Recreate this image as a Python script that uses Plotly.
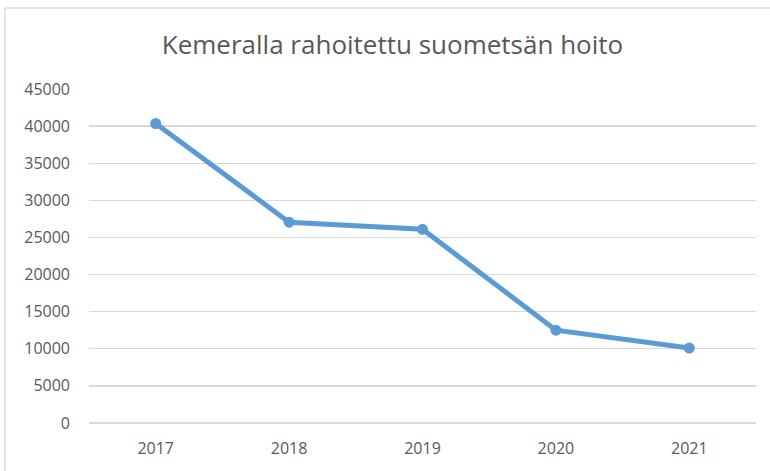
import plotly.graph_objects as go

years = ["2017", "2018", "2019", "2020", "2021"]
values = [40350, 27050, 26100, 12500, 10100]
y_ticks = [0, 5000, 10000, 15000, 20000, 25000, 30000, 35000, 40000, 45000]
title_text = "Kemeralla rahoitettu suometsän hoito"

W, H = 770, 471
L, R, T, B = 89, 14, 89, 48
pw, ph = W - L - R, H - T - B


def px_x(x):
    return (x - L) / pw


def px_y(y):
    return (H - B - y) / ph


fig = go.Figure()
fig.add_trace(go.Scatter(
    x=years, y=values, mode="lines+markers",
    line=dict(color="#5B9BD5", width=5),
    marker=dict(color="#5B9BD5", size=11),
    showlegend=False, hoverinfo="skip",
))

font_color = "#595959"
border = dict(color="#d9d9d9", width=1.5)
fig.update_layout(
    width=W, height=H,
    margin=dict(l=L, r=R, t=T, b=B),
    paper_bgcolor="white", plot_bgcolor="white",
    font=dict(family="Open Sans", color=font_color, size=16),
    title=dict(text=title_text, x=392.5 / W, xanchor="center", xref="container",
               y=1 - 45 / H, yanchor="middle", yref="container",
               font=dict(size=26, color=font_color, family="Open Sans")),
    xaxis=dict(type="category", range=[-0.5, 4.5], showgrid=False,
               showline=False, zeroline=False, ticks="", ticklabelstandoff=14,
               tickfont=dict(size=16, color=font_color)),
    yaxis=dict(range=[0, 45000], tickvals=y_ticks, ticktext=[str(v) for v in y_ticks],
               showgrid=True, gridcolor="#d9d9d9", gridwidth=1.3,
               zeroline=True, zerolinecolor="#d9d9d9", zerolinewidth=1.3,
               showline=False, ticks="", ticklabelstandoff=18,
               tickfont=dict(size=16, color=font_color)),
    shapes=[
        dict(type="line", xref="paper", yref="paper",
             x0=px_x(5), x1=px_x(W), y0=px_y(8), y1=px_y(8),
             line=border, layer="below"),
        dict(type="line", xref="paper", yref="paper",
             x0=px_x(5), x1=px_x(5), y0=px_y(8), y1=px_y(H),
             line=border, layer="below"),
    ],
)

fig.write_html(
    "out.html",
    config={"displayModeBar": False, "staticPlot": True},
    post_script="document.body.style.margin='0';document.body.style.overflow='hidden';",
)
